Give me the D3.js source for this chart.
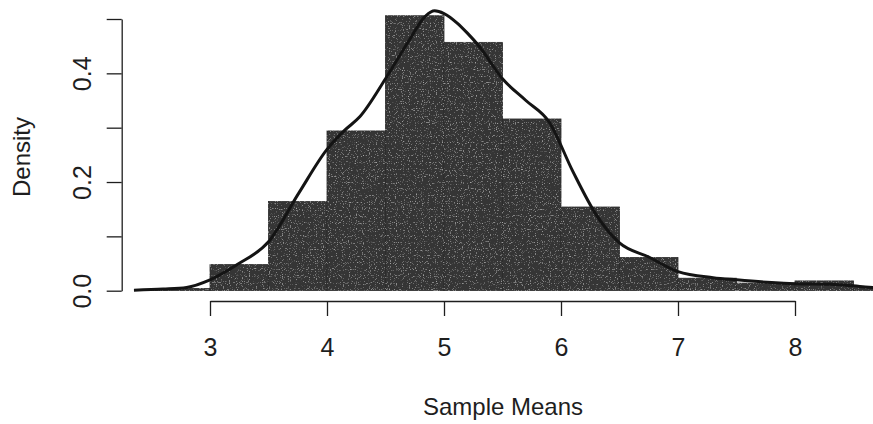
<!DOCTYPE html>
<html>
<head>
<meta charset="utf-8">
<script src="https://cdn.jsdelivr.net/npm/d3@7"></script>
<style>
  html, body { margin: 0; padding: 0; background: #fff; }
  svg text { font-family: "Liberation Sans", Arial, Helvetica, sans-serif; fill: #1e1e1e; }
</style>
</head>
<body>
<svg id="chart" width="873" height="424"></svg>
<script>
// Histogram of sample means (density scale), bin width 0.5
const binStarts = [2.5, 3.0, 3.5, 4.0, 4.5, 5.0, 5.5, 6.0, 6.5, 7.0, 7.5, 8.0, 8.5];
const binDensity = [0.004, 0.048, 0.164, 0.294, 0.506, 0.457, 0.316, 0.154, 0.061, 0.023, 0.014, 0.018, 0.006];
const binWidth = 0.5;

// Kernel density estimate drawn over the histogram
const kdeX = [2.35, 2.6, 2.8, 3.0, 3.24, 3.5, 3.76, 4.0, 4.15, 4.28, 4.5, 4.7, 4.84, 4.92, 5.0, 5.11, 5.2, 5.3, 5.5, 5.7, 5.9, 6.1, 6.3, 6.5, 6.75, 7.0, 7.3, 7.5, 7.8, 8.0, 8.3, 8.6, 8.8];
const kdeY = [0.001, 0.003, 0.006, 0.02, 0.049, 0.09, 0.18, 0.26, 0.295, 0.32, 0.39, 0.46, 0.505, 0.515, 0.51, 0.493, 0.474, 0.45, 0.39, 0.35, 0.31, 0.22, 0.14, 0.088, 0.062, 0.035, 0.024, 0.02, 0.015, 0.013, 0.012, 0.007, 0.004];

const xTicks = [3, 4, 5, 6, 7, 8];
const yTicks = [0, 0.1, 0.2, 0.3, 0.4, 0.5];
const yTickLabels = ["0.0", "", "0.2", "", "0.4", ""];

const svg = d3.select("#chart");
const x = d3.scaleLinear().domain([3, 8]).range([210, 795]);
const y = d3.scaleLinear().domain([0, 0.5]).range([290.7, 19]);
const plotLeft = 121.7;

// fine speckle for the printed-ink look of the bars
const defs = svg.append("defs");
const grain = defs.append("filter").attr("id", "grain")
  .attr("x", 0).attr("y", 0).attr("width", 1).attr("height", 1);
grain.append("feTurbulence")
  .attr("type", "fractalNoise").attr("baseFrequency", 0.85)
  .attr("numOctaves", 1).attr("seed", 7).attr("result", "noise");
grain.append("feColorMatrix")
  .attr("in", "noise").attr("type", "matrix")
  .attr("values", "0 0 0 0 1  0 0 0 0 1  0 0 0 0 1  0 0 0 1.6 -0.95")
  .attr("result", "speck");
grain.append("feComposite").attr("in", "speck").attr("in2", "SourceGraphic")
  .attr("operator", "in").attr("result", "speckIn");
grain.append("feMerge").call(m => {
  m.append("feMergeNode").attr("in", "SourceGraphic");
  m.append("feMergeNode").attr("in", "speckIn");
});

// bars
svg.append("g")
  .attr("filter", "url(#grain)")
  .selectAll("rect")
  .data(binStarts.map((s, i) => ({ s, d: binDensity[i] })))
  .join("rect")
  .attr("x", d => x(d.s))
  .attr("y", d => y(d.d))
  .attr("width", d => x(d.s + binWidth) - x(d.s))
  .attr("height", d => y(0) - y(d.d))
  .attr("fill", "#363636")
  .attr("stroke", "#2a2a2a")
  .attr("stroke-width", 0.8);

// density curve
svg.append("clipPath").attr("id", "plotclip")
  .append("rect").attr("x", plotLeft).attr("y", 0).attr("width", 873 - plotLeft).attr("height", 300);
const line = d3.line()
  .x(d => x(d[0]))
  .y(d => y(d[1]))
  .curve(d3.curveMonotoneX);
svg.append("path")
  .datum(kdeX.map((v, i) => [v, kdeY[i]]))
  .attr("clip-path", "url(#plotclip)")
  .attr("d", line)
  .attr("fill", "none")
  .attr("stroke", "#141414")
  .attr("stroke-width", 3);

// x axis
const xAxis = svg.append("g")
  .attr("transform", "translate(0,301)")
  .call(d3.axisBottom(x).tickValues(xTicks).tickSize(15).tickSizeOuter(0).tickFormat(d3.format("d")));
xAxis.select(".domain").attr("stroke", "#1e1e1e").attr("stroke-width", 1.3);
xAxis.selectAll(".tick line").attr("stroke", "#1e1e1e").attr("stroke-width", 1.3);
xAxis.selectAll(".tick text")
  .attr("y", 55).attr("dy", null)
  .style("font-size", "25px");

// y axis
const yAxis = svg.append("g")
  .attr("transform", `translate(${plotLeft},0)`)
  .call(d3.axisLeft(y).tickValues(yTicks).tickSize(15).tickSizeOuter(0)
    .tickFormat((d, i) => yTickLabels[i]));
yAxis.select(".domain").attr("stroke", "#1e1e1e").attr("stroke-width", 1.3);
yAxis.selectAll(".tick line").attr("stroke", "#1e1e1e").attr("stroke-width", 1.3);
yAxis.selectAll(".tick text")
  .attr("x", null).attr("dy", null)
  .attr("text-anchor", "middle")
  .attr("transform", "translate(-22,0) rotate(-90) translate(0,-9)")
  .style("font-size", "25px");

// axis titles
svg.append("text")
  .attr("x", 503).attr("y", 415)
  .attr("text-anchor", "middle")
  .style("font-size", "24px")
  .text("Sample Means");
svg.append("text")
  .attr("transform", "translate(30,157) rotate(-90)")
  .attr("text-anchor", "middle")
  .style("font-size", "24px")
  .text("Density");
</script>
</body>
</html>
